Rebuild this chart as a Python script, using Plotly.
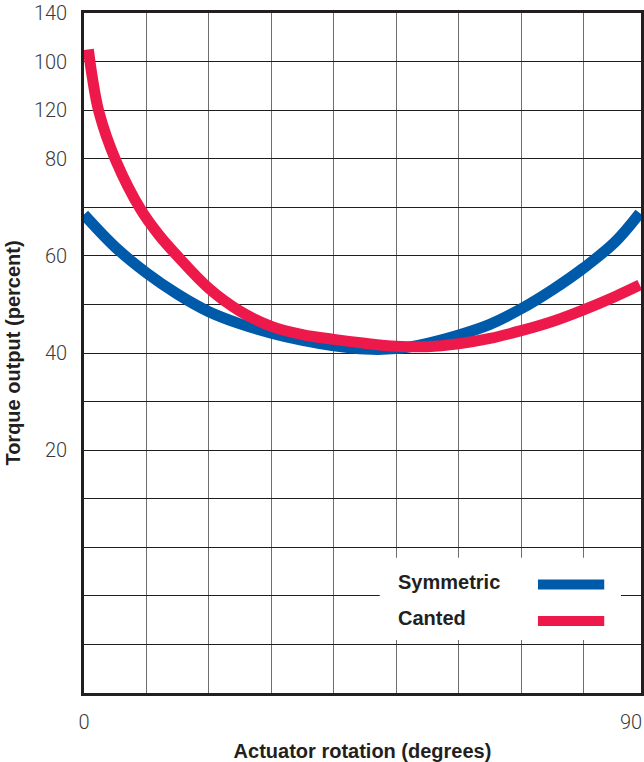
import plotly.graph_objects as go

# ---- data ----
sym_x = [0, 5, 10, 15, 20, 25, 30, 35, 40, 45, 50, 55, 60, 65, 70, 75, 80, 85, 89]
sym_y = [98.5, 91.8, 86.5, 82.1, 78.5, 76.0, 74.1, 72.6, 71.5, 70.8, 70.9, 72.0, 73.7, 75.9, 79.1, 83.0, 87.5, 92.8, 98.8]

can_x = [0.7, 1.3, 2.4, 5.1, 9.1, 12, 15, 20, 25, 30, 35, 40, 45, 50, 55, 60, 65, 70, 75, 80, 85, 89]
can_y = [132.5, 127.0, 119.6, 109.6, 99.5, 94.3, 89.9, 83.3, 78.6, 75.5, 73.8, 72.8, 72.0, 71.4, 71.3, 71.9, 73.0, 74.6, 76.5, 78.9, 81.6, 84.0]

series_names = ["Symmetric", "Canted"]
series_colors = ["#005AAA", "#ED194B"]

y_tickvals = [0, 10, 20, 30, 40, 50, 60, 70, 80, 90, 100, 110, 120, 130, 140]
y_ticktext = ["", "", "", "", "", "20", "", "40", "", "60", "", "80", "120", "100", "140"]
x_tickvals = [0, 87.6]
x_ticktext = ["0", "90"]

fig = go.Figure()
for name, xs, ys, col in [(series_names[0], sym_x, sym_y, series_colors[0]),
                          (series_names[1], can_x, can_y, series_colors[1])]:
    fig.add_trace(go.Scatter(x=xs, y=ys, mode="lines", name=name,
                             line=dict(color=col, width=11, shape="spline", smoothing=1.0),
                             showlegend=False, hoverinfo="skip"))

tick_font = dict(family="Roboto, Liberation Sans, Arial", size=20, color="#3a3a3a", weight=300)
title_font = dict(family="Liberation Sans, Arial", size=20, color="#231f20", weight="bold")

fig.update_layout(
    width=644, height=762,
    margin=dict(l=84, r=3, t=13, b=69, autoexpand=False),
    paper_bgcolor="white", plot_bgcolor="white",
    xaxis=dict(range=[0, 89.2], tickvals=x_tickvals, ticktext=x_ticktext,
               showgrid=False, zeroline=False, ticks="",
               minor=dict(dtick=10, tick0=0, showgrid=True, gridcolor="#6e6e6e", gridwidth=1.4),
               showline=True, mirror=True, linecolor="#231f20", linewidth=2.6,
               tickfont=tick_font, ticklabelstandoff=9,
               title=dict(text="Actuator rotation (degrees)", font=title_font, standoff=14),
               automargin=False, fixedrange=True),
    yaxis=dict(range=[0, 140], tickvals=y_tickvals, ticktext=y_ticktext,
               showgrid=True, gridcolor="#1e1e1e", gridwidth=1.1, zeroline=False, ticks="",
               showline=True, mirror=True, linecolor="#231f20", linewidth=2.6,
               tickfont=tick_font, ticklabelstandoff=10,
               title=dict(text="Torque output (percent)", font=title_font, standoff=8),
               automargin=False, fixedrange=True),
)

# legend panel (text left, key line right)
fig.add_shape(type="rect", xref="paper", yref="paper", x0=0.531, x1=0.964, y0=0.078, y1=0.199,
              fillcolor="white", line=dict(width=0), layer="above")
legend_rows = [0.1634, 0.110]
for name, col, yy in zip(series_names, series_colors, legend_rows):
    fig.add_annotation(xref="paper", yref="paper", x=0.561, y=yy, text=name, showarrow=False,
                       xanchor="left", yanchor="middle",
                       font=dict(family="Liberation Sans, Arial", size=20, color="#231f20", weight="bold"))
    fig.add_shape(type="line", xref="paper", yref="paper", x0=0.815, x1=0.934, y0=yy - 0.004, y1=yy - 0.004,
                  line=dict(color=col, width=10), layer="above")

fig.write_html("out.html", config={"displayModeBar": False},
               post_script="document.body.style.margin='0';document.body.style.overflow='hidden';")
